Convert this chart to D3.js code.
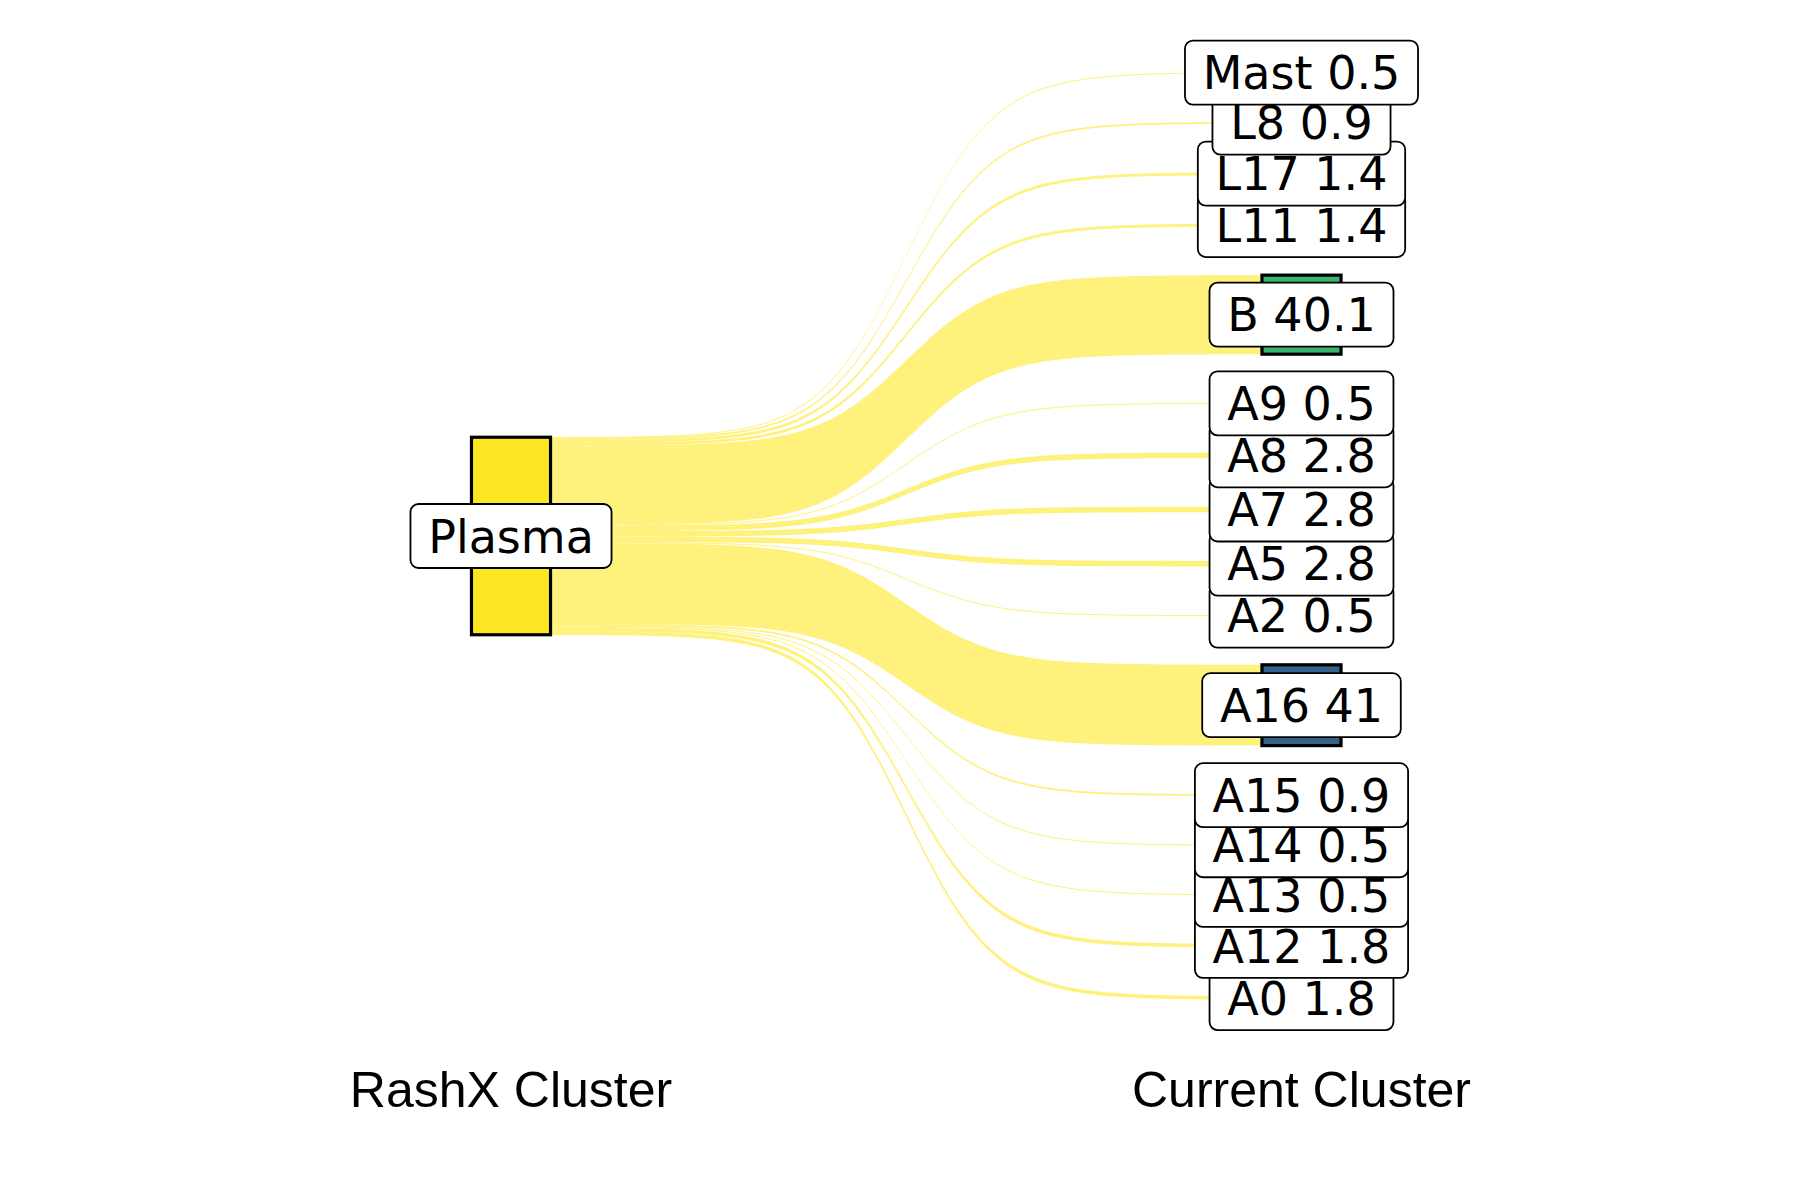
<!DOCTYPE html>
<html>
<head>
<meta charset="utf-8">
<script src="https://cdn.jsdelivr.net/npm/d3@7/dist/d3.min.js"></script>
<style>
  html, body { margin: 0; padding: 0; background: #ffffff; }
  svg { display: block; }
</style>
</head>
<body>
<svg id="chart" width="1800" height="1200"></svg>
<script>
// ---------------- data ----------------
const axisLabels = ["RashX Cluster", "Current Cluster"];
const sourceCluster = "Plasma";
const currentClusters = ["Mast", "L8", "L17", "L11", "B", "A9", "A8", "A7", "A5", "A2", "A16", "A15", "A14", "A13", "A12", "A0"];
const percentages = [0.5, 0.9, 1.4, 1.4, 40.1, 0.5, 2.8, 2.8, 2.8, 0.5, 41, 0.9, 0.5, 0.5, 1.8, 1.8];
const labelTexts = ["Mast 0.5", "L8 0.9", "L17 1.4", "L11 1.4", "B 40.1", "A9 0.5", "A8 2.8", "A7 2.8", "A5 2.8", "A2 0.5", "A16 41", "A15 0.9", "A14 0.5", "A13 0.5", "A12 1.8", "A0 1.8"];

// ---------------- layout ----------------
const svg = d3.select("#chart");
const nodeWidthUnits = 0.1;
const gapUnits = 24.7;        // space between stacked nodes (value units)
const pxPerUnit = 1.971;
const centerY = 536;

const x = d3.scaleLinear().domain([1, 2]).range([511, 1301.5]);
const nodeW = x(1 + nodeWidthUnits) - x(1);

const total = d3.sum(percentages);
const rightSpan = total + gapUnits * (percentages.length - 1);
const y = d3.scaleLinear()
  .domain([0, rightSpan])
  .range([centerY - rightSpan * pxPerUnit / 2, centerY + rightSpan * pxPerUnit / 2]);

// right nodes
let acc = 0;
const rightNodes = currentClusters.map((name, i) => {
  const v = percentages[i];
  const n = { name, value: v, label: labelTexts[i], y0: y(acc), y1: y(acc + v) };
  acc += v + gapUnits;
  return n;
});
// left node (centered)
const leftOffset = (rightSpan - total) / 2;
const leftNode = { name: sourceCluster, y0: y(leftOffset), y1: y(leftOffset + total) };

// flows: stacked on left in same order
let lacc = leftOffset;
const flows = rightNodes.map(n => {
  const f = { ly0: y(lacc), ly1: y(lacc + n.value), ry0: n.y0, ry1: n.y1, name: n.name };
  lacc += n.value;
  return f;
});

// sigmoid like ggsankey
function sigmoidPts(x0, x1, y0, y1, smooth = 8, n = 300) {
  const pts = [];
  for (let i = 0; i < n; i++) {
    const t = -smooth + (2 * smooth) * i / (n - 1);
    const s = Math.exp(t) / (Math.exp(t) + 1);
    pts.push([(t + smooth) / (2 * smooth) * (x1 - x0) + x0, s * (y1 - y0) + y0]);
  }
  return pts;
}

const fx0 = x(1) + nodeW / 2, fx1 = x(2) - nodeW / 2;
const line = d3.line();

svg.append("g").selectAll("path")
  .data(flows)
  .join("path")
  .attr("d", f => {
    const top = sigmoidPts(fx0, fx1, f.ly0, f.ry0);
    const bot = sigmoidPts(fx1, fx0, f.ry1, f.ly1);
    return line(top.concat(bot)) + "Z";
  })
  .attr("fill", "#FDE725")
  .attr("fill-opacity", 0.6)
  .attr("stroke", "none");

// node colors
const nodeColor = d3.scaleOrdinal()
  .domain(["Plasma", "B", "A16", "Mast", "L8", "L17", "L11", "A9", "A8", "A7", "A5", "A2", "A15", "A14", "A13", "A12", "A0"])
  .range(["#FDE725", "#3CB46E", "#33638D", "#E4E419", "#B2DD2D", "#7AD151", "#52C569", "#27AD81", "#1F9E89", "#21908C", "#26828E", "#2C728E", "#3B528B", "#433E85", "#482878", "#471365", "#440154"]);

const nodesG = svg.append("g");
nodesG.append("rect")
  .attr("x", x(1) - nodeW / 2).attr("width", nodeW)
  .attr("y", leftNode.y0).attr("height", leftNode.y1 - leftNode.y0)
  .attr("fill", nodeColor("Plasma")).attr("stroke", "#000").attr("stroke-width", 3.2);
nodesG.selectAll("rect.rn")
  .data(rightNodes)
  .join("rect")
  .attr("class", "rn")
  .attr("x", x(2) - nodeW / 2).attr("width", nodeW)
  .attr("y", d => d.y0).attr("height", d => Math.max(0.5, d.y1 - d.y0))
  .attr("fill", d => nodeColor(d.name)).attr("stroke", "#000").attr("stroke-width", 3.2);

// labels
const fontSize = 46, padX = 17.7, boxH = 64;
function drawLabel(g, cx, cy, text) {
  const lg = g.append("g");
  const rect = lg.append("rect");
  const t = lg.append("text")
    .attr("x", cx).attr("y", cy + 0.729 * fontSize / 2)
    .attr("text-anchor", "middle")
    .attr("font-family", "DejaVu Sans")
    .attr("font-size", fontSize)
    .attr("fill", "#000")
    .text(text);
  const w = t.node().getComputedTextLength() + 2 * padX;
  rect.attr("x", cx - w / 2).attr("y", cy - boxH / 2)
    .attr("width", w).attr("height", boxH)
    .attr("rx", 8).attr("ry", 8)
    .attr("fill", "#fff").attr("stroke", "#000").attr("stroke-width", 1.8);
}
const labelsG = svg.append("g");
rightNodes.slice().reverse().forEach(n => drawLabel(labelsG, x(2), (n.y0 + n.y1) / 2, n.label));
drawLabel(labelsG, x(1), (leftNode.y0 + leftNode.y1) / 2, sourceCluster);

// axis labels
svg.append("g").selectAll("text")
  .data(axisLabels)
  .join("text")
  .attr("x", (d, i) => x(i + 1))
  .attr("y", 1106.5)
  .attr("text-anchor", "middle")
  .attr("font-family", "Liberation Sans, Arial, sans-serif")
  .attr("font-size", 50)
  .attr("fill", "#000")
  .text(d => d);
</script>
</body>
</html>
